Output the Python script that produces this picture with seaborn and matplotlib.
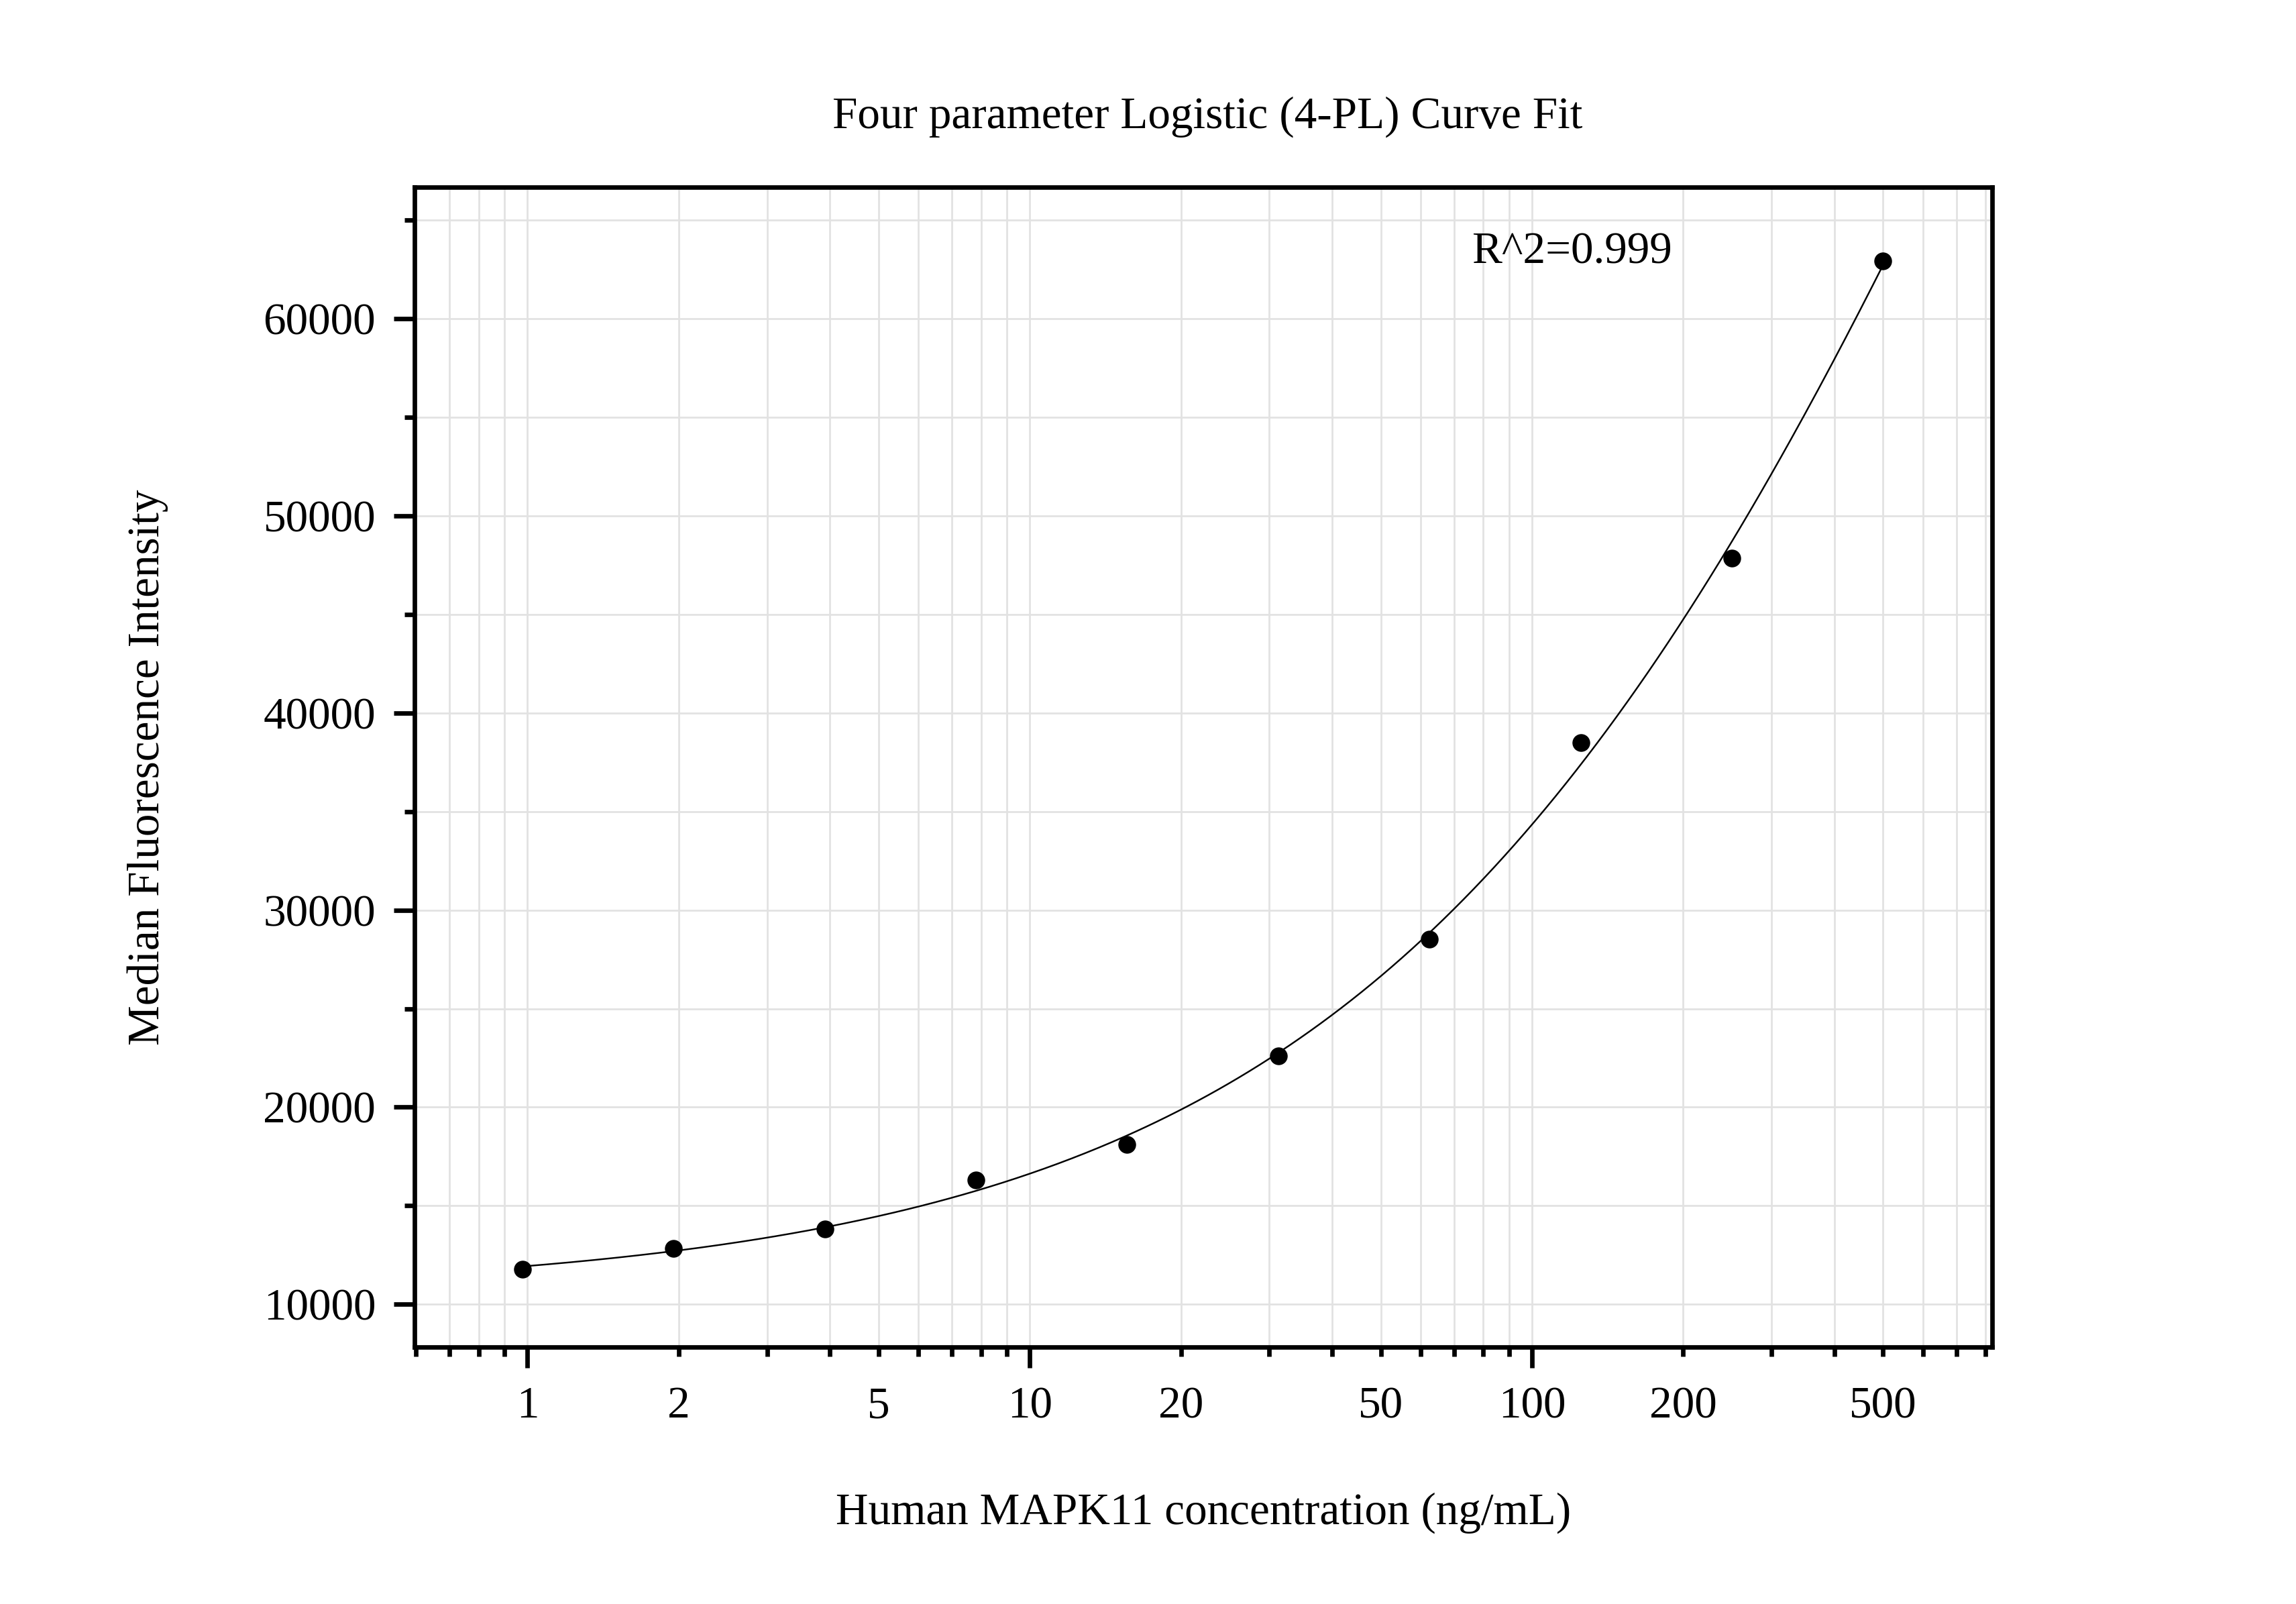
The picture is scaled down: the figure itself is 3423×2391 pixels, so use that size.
import numpy as np
import matplotlib
matplotlib.use("Agg")
import matplotlib.pyplot as plt
import matplotlib.ticker as mticker
import seaborn as sns

conc = [0.977, 1.953, 3.906, 7.8125, 15.625, 31.25, 62.5, 125, 250, 500]
mfi = [11800, 12850, 13820, 16300, 18100, 22590, 28520, 38490, 47860, 62920]
r2_text = "R^2=0.999"

# 4-PL fit: grid over slope B and midpoint C, bottom/top solved by least squares
x = np.array(conc)
y = np.array(mfi, dtype=float)
B = np.linspace(0.3, 3, 271)[:, None, None]
C = np.logspace(0, 6, 601)[None, :, None]
f = 1 / (1 + (x / C) ** B)
g = 1 - f
Sff = (f * f).sum(-1)
Sgg = (g * g).sum(-1)
Sfg = (f * g).sum(-1)
Sfy = (f * y).sum(-1)
Sgy = (g * y).sum(-1)
det = Sff * Sgg - Sfg ** 2
with np.errstate(divide="ignore", invalid="ignore"):
    A = (Sfy * Sgg - Sgy * Sfg) / det
    D = (Sgy * Sff - Sfy * Sfg) / det
    resid = ((A[..., None] * f + D[..., None] * g - y) ** 2).sum(-1)
i, j = np.unravel_index(np.nanargmin(resid), resid.shape)
b, c, a, d = B[i, 0, 0], C[0, j, 0], A[i, j], D[i, j]

xfit = np.geomspace(x.min(), x.max(), 400)
yfit = d + (a - d) / (1 + (xfit / c) ** b)

sns.set_style("white")
plt.rcParams["font.family"] = ["Liberation Serif", "DejaVu Serif"]
plt.rcParams["text.color"] = "black"
plt.rcParams["xtick.color"] = "black"
plt.rcParams["ytick.color"] = "black"

fig = plt.figure(figsize=(3423 / 220, 2391 / 220), dpi=220)
ax = fig.add_axes([0.1806, 0.1601, 0.6870, 0.7231])

ax.set_xscale("log")
ax.set_xlim(0.596, 824)
ax.set_ylim(7830, 66650)

sns.lineplot(x=xfit, y=yfit, ax=ax, color="black", linewidth=0.8, zorder=3)
sns.scatterplot(x=conc, y=mfi, ax=ax, color="black", s=75, edgecolor="black",
                linewidth=0, zorder=4)

ax.xaxis.set_major_locator(mticker.FixedLocator([1, 10, 100]))
ax.xaxis.set_minor_locator(mticker.LogLocator(base=10, subs=np.arange(2, 10), numticks=20))
ax.xaxis.set_major_formatter(mticker.FuncFormatter(lambda v, p: f"{v:g}"))


def minor_label(v, p):
    lead = round(v / 10 ** np.floor(np.log10(v) + 1e-9))
    return f"{v:g}" if lead in (2, 5) else ""


ax.xaxis.set_minor_formatter(mticker.FuncFormatter(minor_label))
ax.yaxis.set_major_locator(mticker.MultipleLocator(10000))
ax.yaxis.set_minor_locator(mticker.MultipleLocator(5000))
ax.yaxis.set_major_formatter(mticker.FuncFormatter(lambda v, p: f"{v:.0f}"))

ax.grid(True, which="both", color="#e2e2e2", linewidth=0.9)
ax.set_axisbelow(True)

for s in ax.spines.values():
    s.set_visible(True)
    s.set_color("black")
    s.set_linewidth(2.2)

ax.tick_params(axis="both", which="both", direction="out", colors="black",
               top=False, right=False, bottom=True, left=True, labelsize=22)
ax.tick_params(axis="x", which="major", length=10, width=2.2, pad=9)
ax.tick_params(axis="x", which="minor", length=4.5, width=2.2, pad=14.5)
ax.tick_params(axis="y", which="major", length=10, width=2.2, pad=9)
ax.tick_params(axis="y", which="minor", length=5, width=2.2)

ax.text(75.8, 63370, r2_text, fontsize=22, ha="left", va="center", color="black")

fig.text(0.526, 0.927, "Four parameter Logistic (4-PL) Curve Fit", fontsize=22,
         ha="center", va="center", color="black")
fig.text(0.524, 0.057, "Human MAPK11 concentration (ng/mL)", fontsize=22,
         ha="center", va="center", color="black")
fig.text(0.0643, 0.5216, "Median Fluorescence Intensity", fontsize=22,
         ha="center", va="center", rotation=90, color="black")

fig.savefig("out.png", dpi=220, facecolor="white")
